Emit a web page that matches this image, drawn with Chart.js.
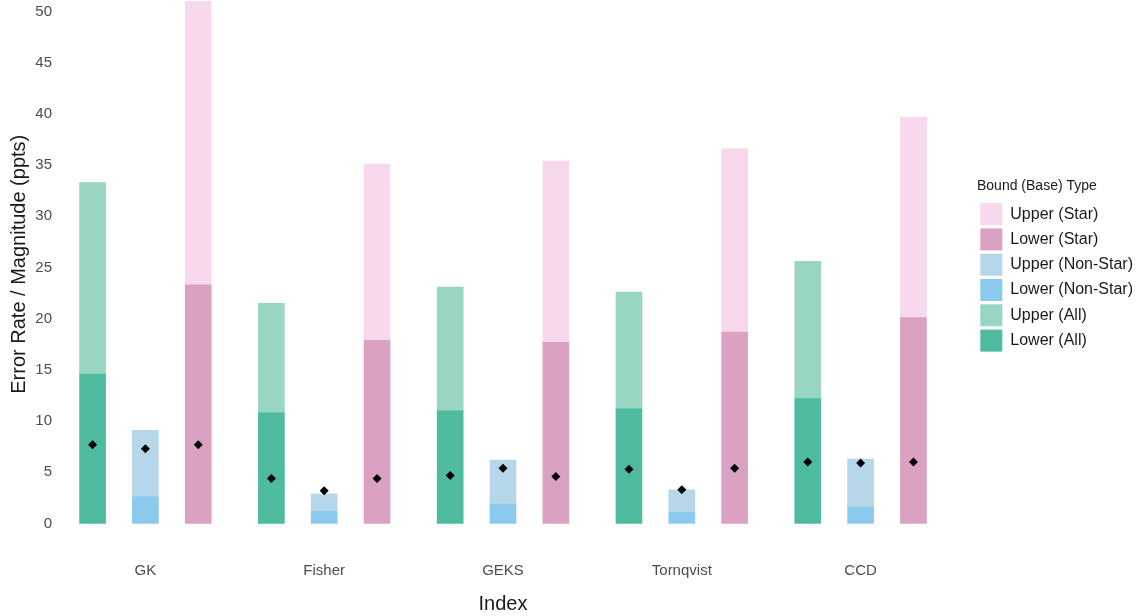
<!DOCTYPE html>
<html>
<head>
<meta charset="utf-8">
<script src="https://cdn.jsdelivr.net/npm/chart.js@4.4.1/dist/chart.umd.min.js"></script>
<style>
  html, body { margin: 0; padding: 0; background: #fff; overflow: hidden; }
  #wrap { width: 1143px; height: 641px; margin-top: -25px; }
</style>
</head>
<body>
<div id="wrap"><canvas id="chart" width="1143" height="641"></canvas></div>
<script>
// valores (ppts)
const indexes = ['GK', 'Fisher', 'GEKS', 'Tornqvist', 'CCD'];
const lowerAll = [14.6, 10.8, 11.0, 11.2, 12.2];
const upperAll = [33.3, 21.5, 23.1, 22.6, 25.6];
const lowerNonStar = [2.6, 1.2, 1.9, 1.1, 1.6];
const upperNonStar = [9.1, 2.9, 6.2, 3.3, 6.3];
const lowerStar = [23.3, 17.9, 17.7, 18.7, 20.1];
const upperStar = [51.0, 35.1, 35.4, 36.6, 39.7];
const pointAll = [7.7, 4.4, 4.7, 5.3, 6.0];
const pointNonStar = [7.3, 3.2, 5.4, 3.3, 5.9];
const pointStar = [7.7, 4.4, 4.6, 5.4, 6.0];
const yTicks = [0, 5, 10, 15, 20, 25, 30, 35, 40, 45, 50];

const FONT = "'Liberation Sans', Arial, sans-serif";
const DODGE = 0.2955; // distância entre barras do mesmo grupo (em unidades de categoria)

// posição de cada barra: índice da categoria deslocado pelo grupo (All, Non-Star, Star)
const atGroup = (arr, k) => arr.map((v, i) => ({ x: i + (k - 1) * DODGE, y: v }));
// parte superior empilhada sobre a inferior
const diff = (up, low) => up.map((v, i) => +(v - low[i]).toFixed(2));

const pointData = [
    ...atGroup(pointAll, 0),
    ...atGroup(pointNonStar, 1),
    ...atGroup(pointStar, 2)
];

const barDefaults = { borderWidth: 0, barThickness: 26, grouped: false, order: 1 };

new Chart(document.getElementById('chart').getContext('2d'), {
    type: 'bar',
    data: {
        datasets: [
            { ...barDefaults, label: 'Lower (All)', data: atGroup(lowerAll, 0), stack: 'all', backgroundColor: '#4EBB9E' },
            { ...barDefaults, label: 'Upper (All)', data: atGroup(diff(upperAll, lowerAll), 0), stack: 'all', backgroundColor: '#98D5C2' },
            { ...barDefaults, label: 'Lower (Non-Star)', data: atGroup(lowerNonStar, 1), stack: 'nonstar', backgroundColor: '#8BCAEE' },
            { ...barDefaults, label: 'Upper (Non-Star)', data: atGroup(diff(upperNonStar, lowerNonStar), 1), stack: 'nonstar', backgroundColor: '#B5D7E9' },
            { ...barDefaults, label: 'Lower (Star)', data: atGroup(lowerStar, 2), stack: 'star', backgroundColor: '#DBA1C3' },
            { ...barDefaults, label: 'Upper (Star)', data: atGroup(diff(upperStar, lowerStar), 2), stack: 'star', backgroundColor: '#F8D8EC' },
            {
                type: 'scatter', label: 'Estimate', data: pointData, stack: 'points', order: 0,
                pointStyle: 'rectRot', radius: 4.5, backgroundColor: '#000', borderColor: '#000', borderWidth: 0
            }
        ]
    },
    options: {
        responsive: false,
        animation: false,
        devicePixelRatio: 1,
        layout: { padding: { left: 0, right: 0, top: 0, bottom: 0 } },
        plugins: {
            tooltip: { enabled: false },
            legend: {
                position: 'right',
                align: 'start',
                reverse: true,
                labels: {
                    filter: item => item.datasetIndex < 6,
                    boxWidth: 22, boxHeight: 22, padding: 3.3,
                    color: '#1a1a1a', font: { family: FONT, size: 16 }
                },
                title: {
                    display: true, text: 'Bound (Base) Type', position: 'start',
                    color: '#1a1a1a', font: { family: FONT, size: 14 }, padding: { top: 204, bottom: 4 }
                }
            }
        },
        scales: {
            x: {
                type: 'linear',
                offset: false,
                min: -0.5, max: 4.5,
                grid: { display: false, drawTicks: false },
                border: { display: false },
                afterBuildTicks: s => { s.ticks = indexes.map((name, i) => ({ value: i })); },
                ticks: {
                    color: '#4d4d4d', font: { family: FONT, size: 15 }, padding: 13,
                    autoSkip: false, maxRotation: 0,
                    callback: v => indexes[v]
                },
                title: { display: true, text: 'Index', color: '#1a1a1a', font: { family: FONT, size: 20 }, padding: 0 },
                afterFit: s => { s.height = 67; s.paddingLeft = 0; s.paddingRight = 0; }
            },
            y: {
                stacked: true,
                min: -2.49, max: 53.13,
                grid: { display: false, drawTicks: false },
                border: { display: false },
                afterBuildTicks: s => { s.ticks = yTicks.map(v => ({ value: v })); },
                ticks: { color: '#4d4d4d', font: { family: FONT, size: 15 }, padding: 4 },
                title: { display: true, text: 'Error Rate / Magnitude (ppts)', color: '#1a1a1a', font: { family: FONT, size: 20 }, padding: 7 },
                afterFit: s => { s.width = 56; s.paddingTop = 0; s.paddingBottom = 0; }
            },
            gap: {
                type: 'linear', position: 'right', display: true,
                grid: { display: false }, border: { display: false }, ticks: { display: false },
                afterFit: s => { s.width = 27; s.paddingTop = 0; s.paddingBottom = 0; }
            }
        }
    }
});
</script>
</body>
</html>
